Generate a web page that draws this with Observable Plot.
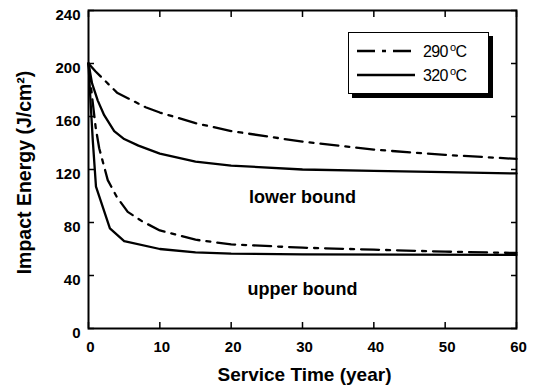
<!DOCTYPE html>
<html>
<head>
<meta charset="utf-8">
<script src="https://cdn.jsdelivr.net/npm/d3@7"></script>
<script src="https://cdn.jsdelivr.net/npm/@observablehq/plot@0.6"></script>
<style>
  html, body { margin: 0; padding: 0; background: #fff; }
  #wrap { position: relative; width: 535px; height: 392px; overflow: hidden; font-family: "Liberation Sans", Arial, sans-serif; }
  #legend { position: absolute; left: 348px; top: 32px; width: 139px; height: 60px; border: 1.5px solid #000; box-shadow: 4px 4px 0 #000; background: #fff; }
  #legend .row { position: absolute; left: 8px; height: 20px; display: flex; align-items: center; }
  #legend .row span { font-size: 16px; letter-spacing: -0.6px; margin-left: 8px; color: #000; }
  #legend sup { font-size: 11px; vertical-align: 6px; margin-left: 2px; margin-right: 0px; }
</style>
</head>
<body>
<div id="wrap"></div>
<script>
// ---- data ----
const years290Lower = [0, 1, 2.5, 4, 8, 10, 15, 20, 30, 40, 50, 60];
const energy290Lower = [200, 194, 186, 178, 167, 163, 155, 149, 141, 135, 131, 128];

const years320Lower = [0, 0.5, 1.3, 2.2, 3.6, 5, 7, 10, 15, 20, 30, 40, 50, 60];
const energy320Lower = [200, 185, 172, 161, 149, 143, 138, 132, 126, 123, 120, 119, 118, 117];

const years290Upper = [0, 0.5, 1, 1.5, 2.7, 4, 5.5, 7.5, 10, 15, 20, 30, 40, 50, 60];
const energy290Upper = [200, 175, 152, 136, 112, 99, 88, 81, 74, 67, 63.5, 61, 59.5, 58, 57];

const years320Upper = [0, 0.3, 0.6, 1.05, 3, 5, 10, 15, 20, 30, 60];
const energy320Upper = [200, 170, 142, 107, 75.5, 66, 60, 57.5, 56.5, 56, 55.5];

const xTicks = [0, 10, 20, 30, 40, 50, 60];
const yTicks = [0, 40, 80, 120, 160, 200, 240];

const boundLabels = ["lower bound", "upper bound"];
const boundLabelYears = [30, 30];
const boundLabelEnergy = [99, 30];

const seriesNames = ["290 \u00B0C", "320 \u00B0C"];
const xTitle = "Service Time (year)";
const yTitle = "Impact Energy (J/cm\u00B2)";

// ---- tables built from the arrays ----
const mk = (name, bound, xs, ys) => xs.map((x, i) => ({series: name, bound, year: x, energy: ys[i]}));
const rows290 = [...mk("290", "lower", years290Lower, energy290Lower), ...mk("290", "upper", years290Upper, energy290Upper)];
const rows320 = [...mk("320", "lower", years320Lower, energy320Lower), ...mk("320", "upper", years320Upper, energy320Upper)];
const labelRows = boundLabels.map((t, i) => ({t, year: boundLabelYears[i], energy: boundLabelEnergy[i]}));

const dashDot = "18,7,4,7";
const tickFont = {fontSize: 15, fontWeight: "bold", letterSpacing: "4px"};

const chart = Plot.plot({
  width: 535,
  height: 392,
  marginLeft: 88,
  marginRight: 19,
  marginTop: 10,
  marginBottom: 64,
  style: {fontFamily: "'Liberation Sans', Arial, sans-serif", color: "#000", background: "#fff", overflow: "visible"},
  x: {domain: [0, 60]},
  y: {domain: [0, 240]},
  marks: [
    Plot.line(rows290, {x: "year", y: "energy", z: "bound", stroke: "#000", strokeWidth: 2.3, strokeDasharray: dashDot, curve: "linear"}),
    Plot.line(rows320, {x: "year", y: "energy", z: "bound", stroke: "#000", strokeWidth: 2.3, curve: "linear"}),
    Plot.frame({stroke: "#000", strokeWidth: 2}),
    // inward ticks on all four sides
    Plot.axisX({ticks: xTicks, tickSize: -6, tickFormat: () => "", label: null, strokeWidth: 1.5}),
    Plot.axisX({ticks: xTicks, anchor: "top", tickSize: -6, tickFormat: () => "", label: null, strokeWidth: 1.5}),
    Plot.axisY({ticks: yTicks, tickSize: -6, tickFormat: () => "", label: null, strokeWidth: 1.5}),
    Plot.axisY({ticks: yTicks, anchor: "right", tickSize: -6, tickFormat: () => "", label: null, strokeWidth: 1.5}),
    // tick labels
    Plot.axisX({ticks: xTicks, tickSize: 0, tickPadding: 13, label: null, dx: 2, ...tickFont}),
    Plot.axisY({ticks: yTicks, tickSize: 0, tickPadding: 8, label: null, dy: 5, ...tickFont}),
    // axis titles
    Plot.text([xTitle], {frameAnchor: "bottom", dy: 52, dx: 2, fontSize: 19, fontWeight: "bold", text: d => d}),
    Plot.text([yTitle], {frameAnchor: "left", textAnchor: "middle", lineAnchor: "middle", rotate: -90, dx: -64, dy: 3, fontSize: 19.5, fontWeight: "bold", text: d => d}),
    // region annotations
    Plot.text(labelRows, {x: "year", y: "energy", text: "t", fontSize: 18, fontWeight: "bold"})
  ]
});

const wrap = document.getElementById("wrap");
wrap.appendChild(chart);

// legend
const legend = document.createElement("div");
legend.id = "legend";
const dashes = [dashDot, null];
seriesNames.forEach((name, i) => {
  const row = document.createElement("div");
  row.className = "row";
  row.style.top = (i === 0 ? 8 : 32) + "px";
  const svgNS = "http://www.w3.org/2000/svg";
  const s = document.createElementNS(svgNS, "svg");
  s.setAttribute("width", "58"); s.setAttribute("height", "6");
  const l = document.createElementNS(svgNS, "line");
  l.setAttribute("x1", "0"); l.setAttribute("x2", "58"); l.setAttribute("y1", "3"); l.setAttribute("y2", "3");
  l.setAttribute("stroke", "#000"); l.setAttribute("stroke-width", "2.3");
  if (dashes[i]) l.setAttribute("stroke-dasharray", dashes[i]);
  s.appendChild(l);
  row.appendChild(s);
  const t = document.createElement("span");
  const [num] = name.split(" ");
  t.innerHTML = num + "<sup>o</sup>C";
  row.appendChild(t);
  legend.appendChild(row);
});
wrap.appendChild(legend);
</script>
</body>
</html>
